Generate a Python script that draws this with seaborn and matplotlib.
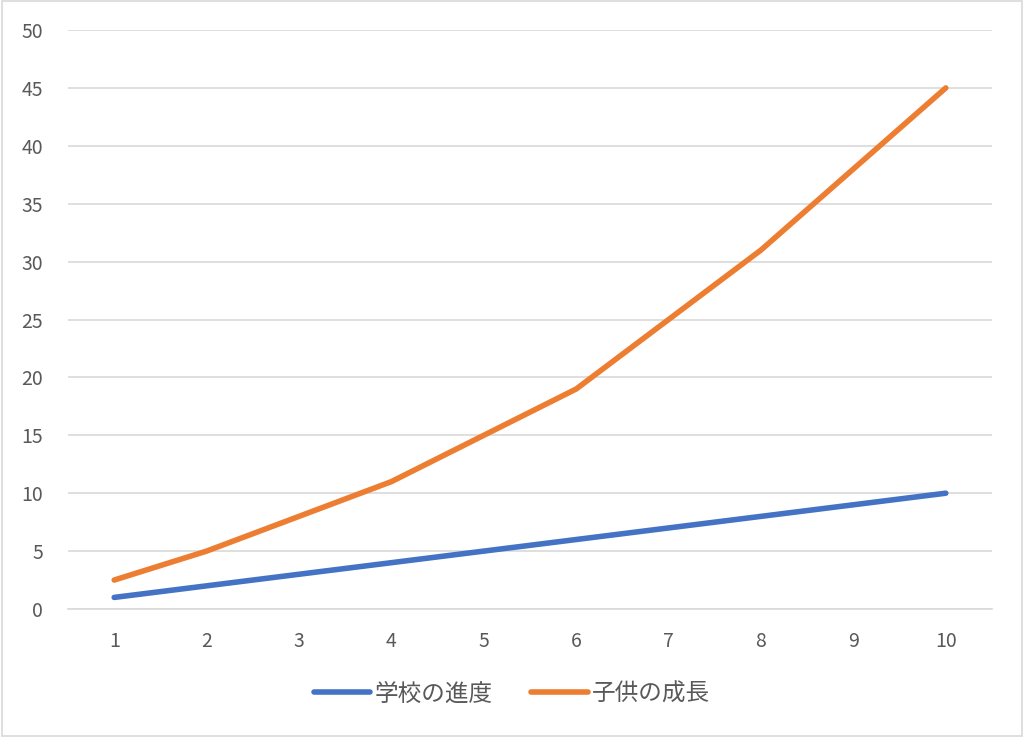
import matplotlib
matplotlib.use("Agg")
import matplotlib.pyplot as plt
import seaborn as sns
import pandas as pd
from matplotlib.lines import Line2D

x_values = [1, 2, 3, 4, 5, 6, 7, 8, 9, 10]
school_progress = [1, 2, 3, 4, 5, 6, 7, 8, 9, 10]
child_growth = [2.5, 5, 8, 11, 15, 19, 25, 31, 38, 45]
series_names = ["学校の進度", "子供の成長"]
colors = ["#4472C4", "#ED7D31"]
y_ticks = [0, 5, 10, 15, 20, 25, 30, 35, 40, 45, 50]

df = pd.DataFrame({
    "x": x_values * 2,
    "y": school_progress + child_growth,
    "series": [series_names[0]] * len(x_values) + [series_names[1]] * len(x_values),
})

sns.set_theme(style="white")
plt.rcParams["font.family"] = ["Noto Sans CJK JP", "DejaVu Sans"]

fig = plt.figure(figsize=(10.24, 7.37), dpi=100)
ax = fig.add_axes([68 / 1024, 1 - 609 / 737, (992 - 68) / 1024, (609 - 30) / 737])

sns.lineplot(data=df, x="x", y="y", hue="series", palette=colors, ax=ax,
             linewidth=4, solid_capstyle="round", legend=False)

ax.set_xlim(0.5, 10.5)
ax.set_ylim(0, 50)
ax.set_yticks(y_ticks)
ax.set_xticks(x_values)
ax.set_xlabel("")
ax.set_ylabel("")
ax.grid(axis="y", color="#D9D9D9", linewidth=1.2)
ax.set_axisbelow(True)
for s in ["top", "right", "left"]:
    ax.spines[s].set_visible(False)
ax.spines["bottom"].set_color("#D9D9D9")
ax.spines["bottom"].set_linewidth(1.2)
ax.tick_params(axis="both", colors="#595959", labelsize=14, length=0)
ax.tick_params(axis="y", pad=18)
ax.tick_params(axis="x", pad=16)

handles = [Line2D([0], [0], color=c, linewidth=4, solid_capstyle="round") for c in colors]
leg = fig.legend(handles, series_names, loc="center", bbox_to_anchor=(0.5, 1 - 694 / 737),
                 ncol=2, frameon=False, fontsize=17, handlelength=2.4, columnspacing=1.6,
                 handletextpad=0.2)
for t in leg.get_texts():
    t.set_color("#595959")

border = plt.Rectangle((0.0015, 0.002), 0.997, 0.996, transform=fig.transFigure,
                       fill=False, edgecolor="#D9D9D9", linewidth=1.2)
fig.patches.append(border)

fig.savefig("out.png", dpi=100, facecolor="white")
